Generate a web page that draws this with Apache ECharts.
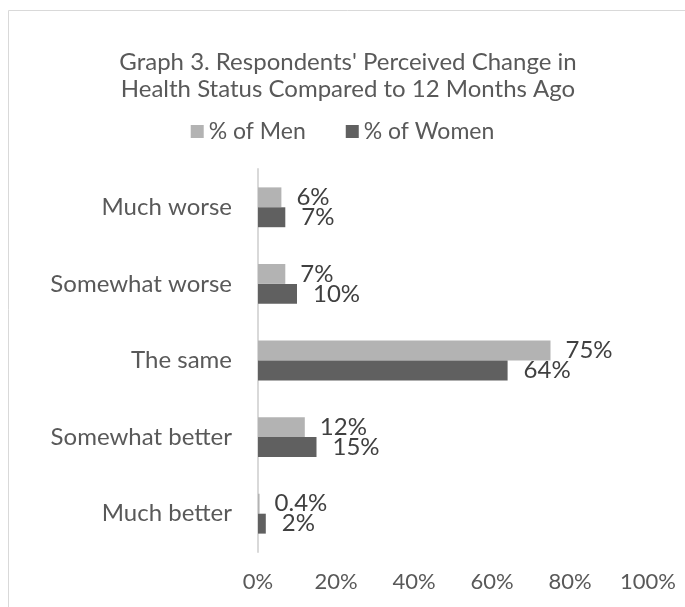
<!DOCTYPE html>
<html>
<head>
<meta charset="utf-8">
<script src="https://cdn.jsdelivr.net/npm/echarts@6/dist/echarts.min.js"></script>
<style>
html,body{margin:0;padding:0;background:#fff;}
#chart{width:685px;height:607px;}
</style>
</head>
<body>
<div id="chart"></div>
<script>
var categories = ['Much worse', 'Somewhat worse', 'The same', 'Somewhat better', 'Much better'];
var menValues = [6, 7, 75, 12, 0.4];
var womenValues = [7, 10, 64, 15, 2];
var xTicks = [0, 20, 40, 60, 80, 100];

var FONT = 'Lato';
var TXT = '#595959';
var chart = echarts.init(document.getElementById('chart'));
chart.setOption({
  animation: false,
  graphic: [{
    type: 'rect', shape: {x: 8.5, y: 10.5, width: 700, height: 640},
    style: {fill: 'none', stroke: '#d9d9d9', lineWidth: 1}
  }],
  title: {
    text: "Graph 3. Respondents' Perceived Change in\nHealth Status Compared to 12 Months Ago",
    left: 343, top: 44, textAlign: 'center',
    textStyle: {fontFamily: FONT, fontSize: 24, fontWeight: 'normal', color: TXT, lineHeight: 27, align: 'center'}
  },
  legend: {
    top: 115, left: 'center',
    itemWidth: 13, itemHeight: 13, itemGap: 40,
    icon: 'rect',
    textStyle: {fontFamily: FONT, fontSize: 23, color: TXT},
    data: ['% of Men', '% of Women']
  },
  grid: {left: 258, right: 37, top: 169, bottom: 55},
  xAxis: {
    type: 'value', min: 0, max: 100, interval: 20,
    axisLine: {show: false}, axisTick: {show: false}, splitLine: {show: false},
    axisLabel: {formatter: '{value}%', fontFamily: FONT, fontSize: 22, color: TXT, margin: 19}
  },
  yAxis: {
    type: 'category', data: categories, inverse: true,
    axisLine: {show: true, lineStyle: {color: '#d9d9d9', width: 2}},
    axisTick: {show: false},
    axisLabel: {fontFamily: FONT, fontSize: 24, color: TXT, margin: 26}
  },
  series: [{
    name: '% of Men', type: 'bar', data: menValues,
    barGap: '0%', barCategoryGap: '48%',
    itemStyle: {color: '#b3b3b3'},
    label: {show: true, position: 'right', distance: 15, formatter: function(p){return p.value + '%';},
      fontFamily: FONT, fontSize: 24, color: '#404040'}
  }, {
    name: '% of Women', type: 'bar', data: womenValues,
    itemStyle: {color: '#606060'},
    label: {show: true, position: 'right', distance: 16, formatter: function(p){return p.value + '%';},
      fontFamily: FONT, fontSize: 24, color: '#404040'}
  }]
});
</script>
</body>
</html>
